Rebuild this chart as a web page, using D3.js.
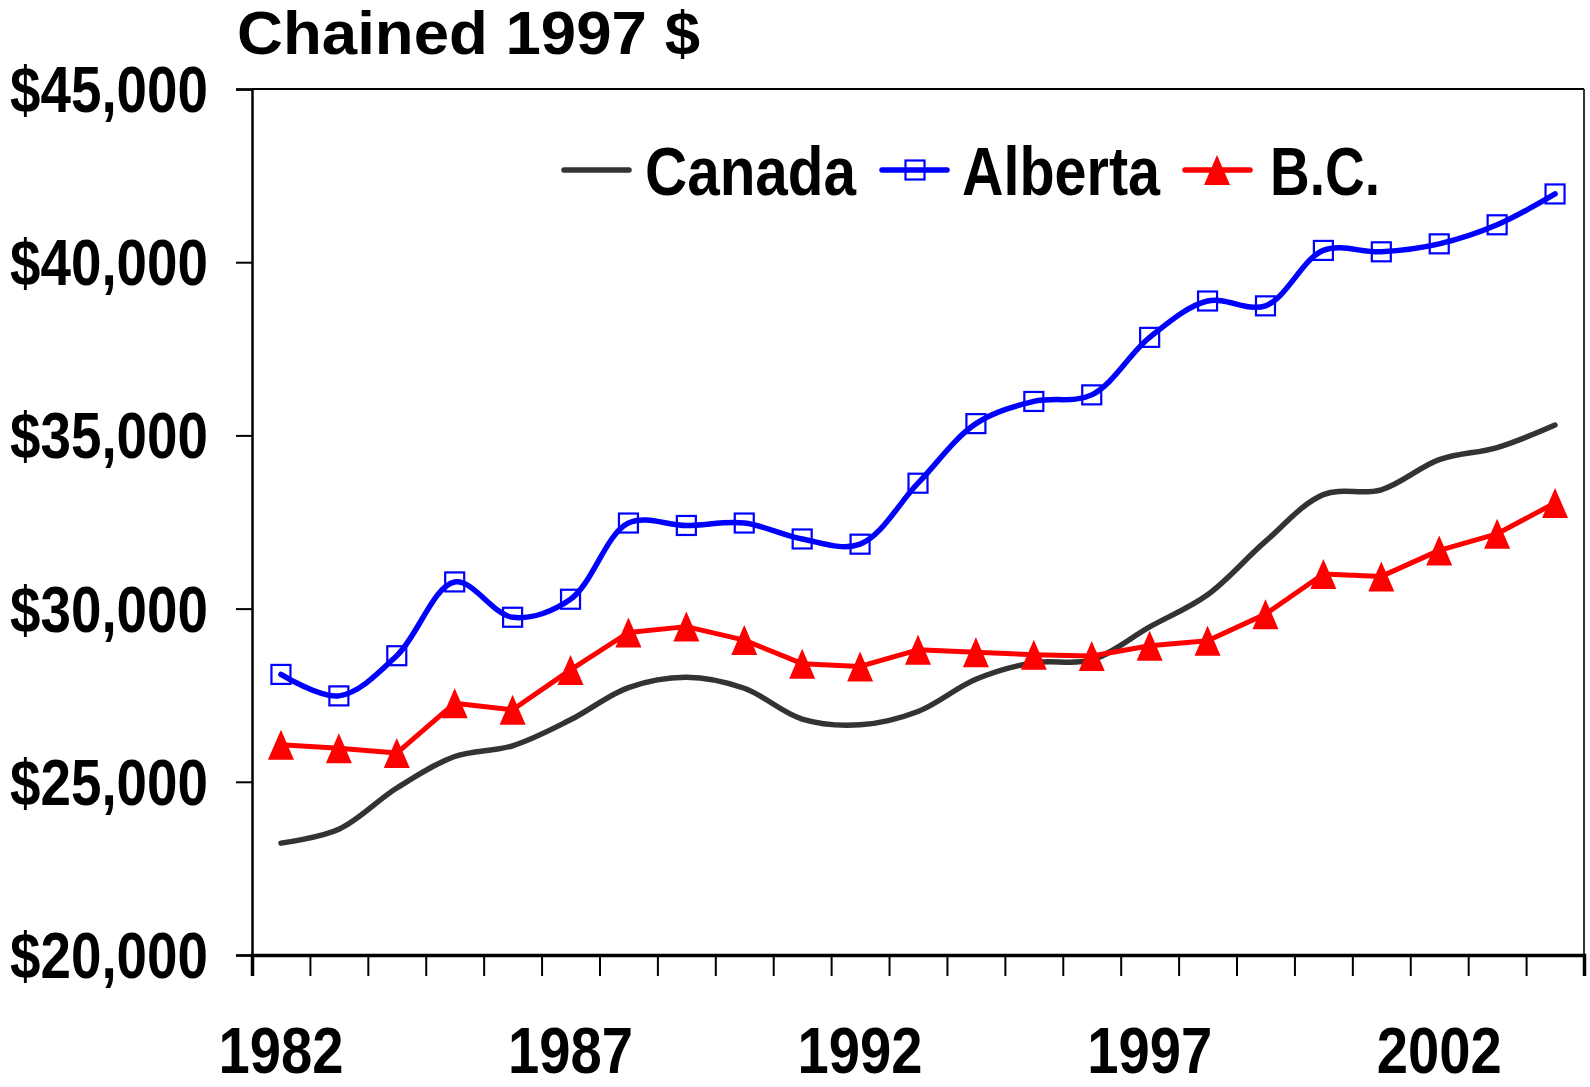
<!DOCTYPE html>
<html>
<head>
<meta charset="utf-8">
<script src="https://cdn.jsdelivr.net/npm/d3@7"></script>
<style>
html,body{margin:0;padding:0;background:#fff;}
svg{display:block;}
text{font-family:"Liberation Sans",Arial,Helvetica,sans-serif;font-weight:bold;fill:#000;}
</style>
</head>
<body>
<svg id="chart" width="1590" height="1087"></svg>
<script>
const years = [1982,1983,1984,1985,1986,1987,1988,1989,1990,1991,1992,1993,1994,1995,1996,1997,1998,1999,2000,2001,2002,2003,2004];
const canada = [23230,23630,24820,25730,26040,26790,27720,28020,27700,26810,26645,27030,27960,28440,28520,29470,30400,31940,33290,33430,34300,34650,35300];
const alberta = [28100,27480,28640,30770,29750,30270,32470,32400,32470,32010,31860,33620,35340,35980,36170,37830,38880,38740,40340,40300,40530,41080,41970];
const bc = [26070,25970,25830,27270,27080,28230,29310,29480,29090,28410,28330,28810,28740,28670,28630,28930,29070,29840,31000,30930,31680,32160,33050];
const yTicks = [20000,25000,30000,35000,40000,45000];
const xLabelYears = [1982,1987,1992,1997,2002];
const seriesNames = ["Canada","Alberta","B.C."];
const titleText = "Chained 1997 $";

const svg = d3.select("#chart");
const L = 252, R = 1584, T = 89, B = 955;

const x = d3.scalePoint().domain(years).range([L, R]).padding(0.5);
const y = d3.scaleLinear().domain([20000, 45000]).range([B, T]);
const step = x.step();

// frame: top and right
svg.append("line").attr("x1", L).attr("x2", R).attr("y1", T).attr("y2", T)
  .attr("stroke", "#000").attr("stroke-width", 2);
svg.append("line").attr("x1", R).attr("x2", R).attr("y1", T).attr("y2", B)
  .attr("stroke", "#333").attr("stroke-width", 2);

// y axis
const yAxis = d3.axisLeft(y).tickValues(yTicks).tickSize(16).tickFormat("");
const gy = svg.append("g").attr("transform", `translate(${L},0)`).call(yAxis);
gy.select(".domain").attr("stroke", "#000").attr("stroke-width", 2.5);
gy.selectAll(".tick line").attr("stroke", "#000").attr("stroke-width", 2);

svg.append("g").selectAll("text").data(yTicks).join("text")
  .attr("x", 208).attr("y", d => y(d) + 23)
  .attr("text-anchor", "end")
  .attr("font-size", 64)
  .attr("textLength", 198).attr("lengthAdjust", "spacingAndGlyphs")
  .text(d => "$" + d3.format(",")(d));

// x axis: ticks at category boundaries
const boundaries = d3.range(years.length + 1).map(i => L + i * step);
const xb = d3.scaleLinear().domain([L, R]).range([L, R]);
const xAxis = d3.axisBottom(xb).tickValues(boundaries).tickSize(21).tickFormat("");
const gx = svg.append("g").attr("transform", `translate(0,${B})`).call(xAxis);
gx.select(".domain").attr("stroke", "#000").attr("stroke-width", 3.5);
gx.selectAll(".tick line").attr("stroke", "#000").attr("stroke-width", 2);

svg.append("g").selectAll("text").data(xLabelYears).join("text")
  .attr("x", d => x(d)).attr("y", 1073)
  .attr("text-anchor", "middle")
  .attr("font-size", 64)
  .attr("textLength", 125).attr("lengthAdjust", "spacingAndGlyphs")
  .text(d => d);

// title
svg.append("text").attr("x", 237).attr("y", 54)
  .attr("font-size", 61)
  .attr("textLength", 463).attr("lengthAdjust", "spacingAndGlyphs")
  .text(titleText);

// lines
const smooth = d3.line().x((d, i) => x(years[i])).y(d => y(d)).curve(d3.curveCatmullRom.alpha(0.5));
const straight = d3.line().x((d, i) => x(years[i])).y(d => y(d));

svg.append("path").datum(canada).attr("d", smooth)
  .attr("fill", "none").attr("stroke", "#333333").attr("stroke-width", 5.5)
  .attr("stroke-linejoin", "round").attr("stroke-linecap", "round");

svg.append("path").datum(alberta).attr("d", smooth)
  .attr("fill", "none").attr("stroke", "#0000ff").attr("stroke-width", 5.5)
  .attr("stroke-linejoin", "round").attr("stroke-linecap", "round");

svg.append("path").datum(bc).attr("d", straight)
  .attr("fill", "none").attr("stroke", "#ff0000").attr("stroke-width", 5)
  .attr("stroke-linejoin", "round").attr("stroke-linecap", "round");

// markers
const sq = 19;
svg.append("g").selectAll("rect").data(alberta).join("rect")
  .attr("x", (d, i) => x(years[i]) - sq / 2).attr("y", d => y(d) - sq / 2)
  .attr("width", sq).attr("height", sq)
  .attr("fill", "none").attr("stroke", "#0000ff").attr("stroke-width", 2.2);

const tri = (cx, cy, w, h) => `M${cx},${cy - h / 2}L${cx + w / 2},${cy + h / 2}L${cx - w / 2},${cy + h / 2}Z`;
svg.append("g").selectAll("path").data(bc).join("path")
  .attr("d", (d, i) => tri(x(years[i]), y(d), 26, 30))
  .attr("fill", "#ff0000");

// legend
const legY = 170;
const leg = svg.append("g");
// Canada
leg.append("line").attr("x1", 564).attr("x2", 629).attr("y1", legY).attr("y2", legY)
  .attr("stroke", "#333333").attr("stroke-width", 5.5).attr("stroke-linecap", "round");
leg.append("text").attr("x", 645).attr("y", 195).attr("font-size", 68)
  .attr("textLength", 211).attr("lengthAdjust", "spacingAndGlyphs").text(seriesNames[0]);
// Alberta
leg.append("line").attr("x1", 882).attr("x2", 947).attr("y1", legY).attr("y2", legY)
  .attr("stroke", "#0000ff").attr("stroke-width", 5.5).attr("stroke-linecap", "round");
leg.append("rect").attr("x", 915 - sq / 2).attr("y", legY - sq / 2).attr("width", sq).attr("height", sq)
  .attr("fill", "none").attr("stroke", "#0000ff").attr("stroke-width", 2.2);
leg.append("text").attr("x", 962).attr("y", 195).attr("font-size", 68)
  .attr("textLength", 198).attr("lengthAdjust", "spacingAndGlyphs").text(seriesNames[1]);
// B.C.
leg.append("line").attr("x1", 1185).attr("x2", 1250).attr("y1", legY).attr("y2", legY)
  .attr("stroke", "#ff0000").attr("stroke-width", 5.5).attr("stroke-linecap", "round");
leg.append("path").attr("d", tri(1217, legY, 26, 30)).attr("fill", "#ff0000");
leg.append("text").attr("x", 1270).attr("y", 195).attr("font-size", 68)
  .attr("textLength", 110).attr("lengthAdjust", "spacingAndGlyphs").text(seriesNames[2]);
</script>
</body>
</html>
